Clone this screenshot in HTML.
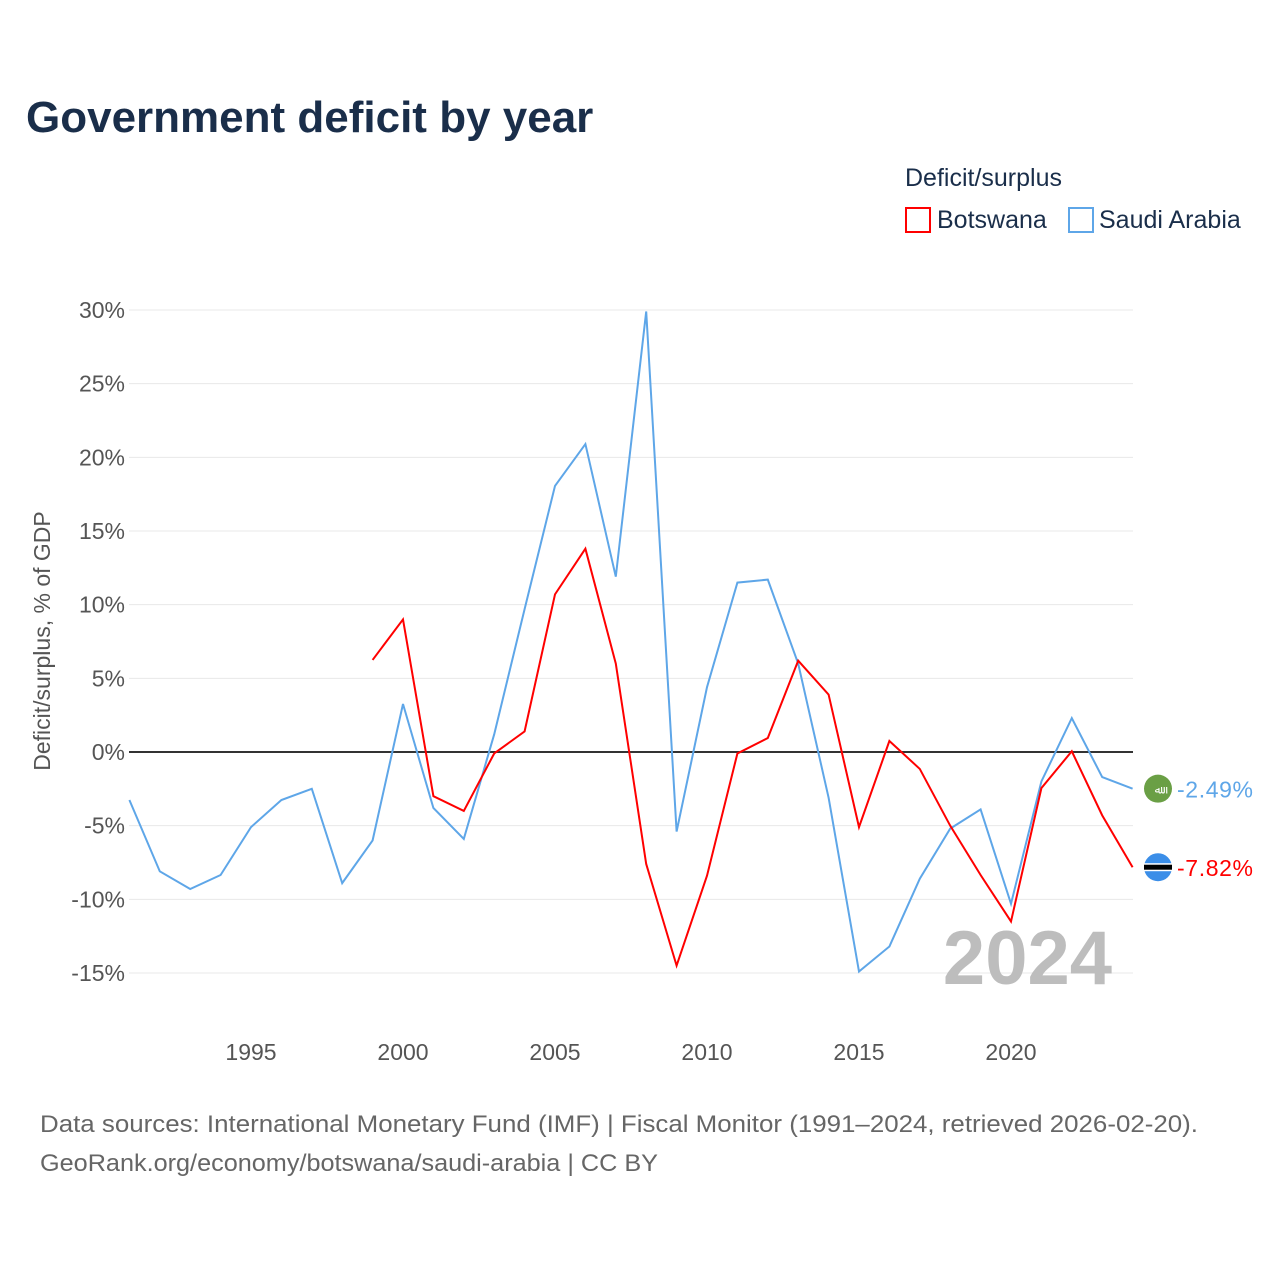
<!DOCTYPE html>
<html><head><meta charset="utf-8"><style>
body{margin:0;background:#fff;font-family:"Liberation Sans",sans-serif;}
#wrap{position:relative;width:1280px;height:1280px;}
</style></head><body>
<div id="wrap">
<svg id="chart" width="1280" height="1280"></svg>
</div>
<script>
const years=[1991,1992,1993,1994,1995,1996,1997,1998,1999,2000,2001,2002,2003,2004,2005,2006,2007,2008,2009,2010,2011,2012,2013,2014,2015,2016,2017,2018,2019,2020,2021,2022,2023,2024];
const saudi=[-3.26,-8.1,-9.3,-8.35,-5.1,-3.26,-2.5,-8.9,-6.0,3.26,-3.8,-5.9,1.2,9.7,18.06,20.9,11.9,29.9,-5.4,4.4,11.5,11.7,6.0,-3.1,-14.9,-13.2,-8.6,-5.2,-3.9,-10.3,-2.0,2.3,-1.7,-2.49];
const botswanaYears=[1999,2000,2001,2002,2003,2004,2005,2006,2007,2008,2009,2010,2011,2012,2013,2014,2015,2016,2017,2018,2019,2020,2021,2022,2023,2024];
const botswana=[6.25,9.0,-3.0,-4.0,-0.1,1.4,10.7,13.8,6.0,-7.6,-14.5,-8.4,-0.1,0.95,6.2,3.9,-5.1,0.75,-1.15,-5.0,-8.35,-11.5,-2.45,0.05,-4.3,-7.82];
const yTicks=[30,25,20,15,10,5,0,-5,-10,-15];
const xTicks=[1995,2000,2005,2010,2015,2020];

const NS="http://www.w3.org/2000/svg";
const svg=document.getElementById('chart');
const x=v=>129.4+(v-1991)*30.4;
const y=v=>752-v*14.733;
function mk(tag,attrs,text){const e=document.createElementNS(NS,tag);for(const k in attrs)e.setAttribute(k,attrs[k]);if(text!==undefined)e.textContent=text;svg.appendChild(e);return e;}
const F='"Liberation Sans",sans-serif';

let t=mk('text',{x:26,y:132,'font-size':44,'font-weight':'bold',fill:'#1a2e4a','font-family':F},'Government deficit by year');

t=mk('text',{x:905,y:186,'font-size':25,fill:'#1a2e4a','font-family':F},'Deficit/surplus');

let r=mk('rect',{x:906,y:208,width:24,height:24,fill:'none',stroke:'#ff0000','stroke-width':2});

t=mk('text',{x:937,y:228,'font-size':25,fill:'#1a2e4a','font-family':F},'Botswana');

r=mk('rect',{x:1069,y:208,width:24,height:24,fill:'none',stroke:'#5ea6e8','stroke-width':2});

t=mk('text',{x:1099,y:228,'font-size':25,fill:'#1a2e4a','font-family':F},'Saudi Arabia');


yTicks.forEach(v=>{
  let l=mk('line',{x1:129,x2:1133,y1:y(v),y2:y(v),stroke:v===0?'#333':'#e8e8e8','stroke-width':v===0?2:1});
  
  let tt=mk('text',{x:125,y:y(v)+8,'font-size':23,fill:'#555','text-anchor':'end','font-family':F},v+'%');
  
});
xTicks.forEach(v=>{
  let tt=mk('text',{x:x(v),y:1060,'font-size':23,fill:'#555','text-anchor':'middle','font-family':F},String(v));
  
});
t=mk('text',{x:0,y:0,'font-size':23,fill:'#555','text-anchor':'middle','font-family':F,transform:'translate(50,641) rotate(-90)'},'Deficit/surplus, % of GDP');


t=mk('text',{x:1112,y:984,'font-size':76,'font-weight':'bold',fill:'#bdbdbd','text-anchor':'end','font-family':F},'2024');


let p=mk('polyline',{points:years.map((yr,i)=>x(yr)+','+y(saudi[i])).join(' '),fill:'none',stroke:'#5ea6e8','stroke-width':2});

p=mk('polyline',{points:botswanaYears.map((yr,i)=>x(yr)+','+y(botswana[i])).join(' '),fill:'none',stroke:'#ff0000','stroke-width':2});


const sl=saudi[saudi.length-1], bl=botswana[botswana.length-1];
let c=mk('circle',{cx:1158,cy:y(sl),r:14,fill:'#6a9f45'});

t=mk('text',{x:1158,y:y(sl)+5,'font-size':11,fill:'#fff','text-anchor':'middle','font-family':F},'ﷲ');

t=mk('text',{x:1177,y:y(sl)+9,'font-size':23,fill:'#5ea6e8','font-family':F,textLength:76},sl.toFixed(2)+'%');

c=mk('circle',{cx:1158,cy:y(bl),r:14,fill:'#3b8ee8'});

r=mk('rect',{x:1144,y:y(bl)-4,width:28,height:8,fill:'#fff'});

r=mk('rect',{x:1144,y:y(bl)-2.5,width:28,height:5,fill:'#000'});

t=mk('text',{x:1177,y:y(bl)+9,'font-size':23,fill:'#ff0000','font-family':F,textLength:76},bl.toFixed(2)+'%');


t=mk('text',{x:40,y:1132,'font-size':24,fill:'#666','font-family':F,textLength:1158,lengthAdjust:'spacingAndGlyphs'},'Data sources: International Monetary Fund (IMF) | Fiscal Monitor (1991–2024, retrieved 2026-02-20).');

t=mk('text',{x:40,y:1171,'font-size':24,fill:'#666','font-family':F,textLength:618,lengthAdjust:'spacingAndGlyphs'},'GeoRank.org/economy/botswana/saudi-arabia | CC BY');

</script>
</body></html>
